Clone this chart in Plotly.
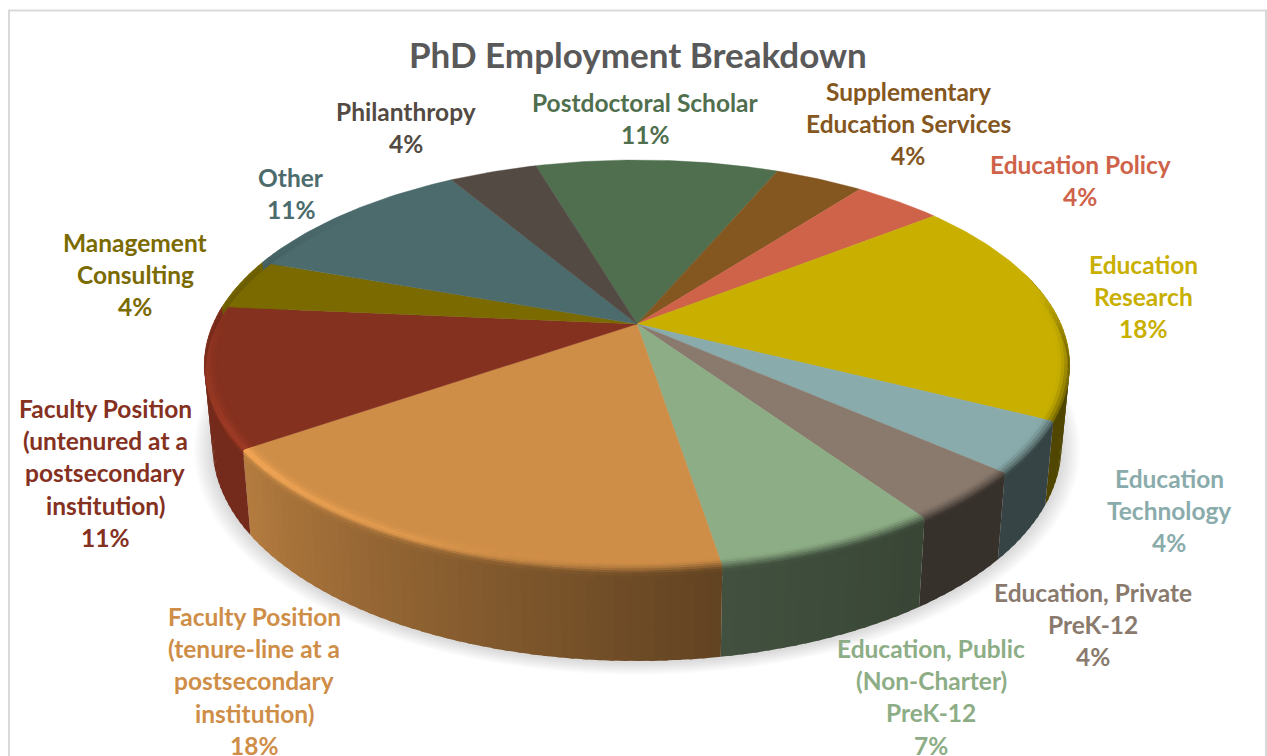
import math
import plotly.graph_objects as go

# Shares of PhD employment, clockwise from the first slice
categories = [
    "Postdoctoral Scholar", "Supplementary Education Services", "Education Policy",
    "Education Research", "Education Technology", "Education, Private PreK-12",
    "Education, Public (Non-Charter) PreK-12",
    "Faculty Position (tenure-line at a postsecondary institution)",
    "Faculty Position (untenured at a postsecondary institution)",
    "Management Consulting", "Other", "Philanthropy",
]
shares = [11, 4, 4, 18, 4, 4, 7, 18, 11, 4, 11, 4]
slice_colors = [
    "#4F6F4E", "#845620", "#CF634A", "#C8AF00", "#8AABAC", "#8A7A6D",
    "#8DAD86", "#CF8E48", "#85311F", "#7A6A00", "#4C6B6D", "#524A43",
]
label_lines = [
    ["Postdoctoral Scholar"],
    ["Supplementary", "Education Services"],
    ["Education Policy"],
    ["Education", "Research"],
    ["Education", "Technology"],
    ["Education, Private", "PreK-12"],
    ["Education, Public", "(Non-Charter)", "PreK-12"],
    ["Faculty Position", "(tenure-line at a", "postsecondary", "institution)"],
    ["Faculty Position", "(untenured at a", "postsecondary", "institution)"],
    ["Management", "Consulting"],
    ["Other"],
    ["Philanthropy"],
]
title_text = "PhD Employment Breakdown"

# Label placement: column centre and the height of the first text line
label_anchor = [
    (645, 102), (908, 91), (1080, 164), (1143, 264), (1169, 478), (1093, 592),
    (931, 648), (254, 616), (105, 408), (135, 242), (291, 177), (406, 111),
]
LINE_STEP = 32.4
FONT = "Lato"
LABEL_SIZE = 24.5
TITLE_SIZE = 35

# Projection of the tilted disc onto the page
CX, CY = 637.0, 324.0
RX, RY = 424.0, 196.8
PERSP = 0.2
START_DEG = -16.5


def project(r, deg, z=0.0):
    """Map polar disc coordinates (z = fraction of the wall height) to page pixels."""
    t = math.radians(deg)
    u, v = r * math.sin(t), -r * math.cos(t)
    k = 1 / (1 - PERSP * v)
    x = CX + (1 - 0.019 * z) * RX * u * k
    y = CY + RY * v * k + z * (78 + 13 * v)
    return x, y


def rgb(hex_color):
    return [int(hex_color[i:i + 2], 16) for i in (1, 3, 5)]


def css(c):
    return "rgb({},{},{})".format(*[max(0, min(255, round(a))) for a in c])


def interp(x, pts):
    if x <= pts[0][0]:
        return pts[0][1]
    for (x0, y0), (x1, y1) in zip(pts, pts[1:]):
        if x <= x1:
            return y0 + (y1 - y0) * (x - x0) / (x1 - x0)
    return pts[-1][1]


def wall_shade(deg):
    return interp(deg, [(145, 0.40), (171, 0.47), (235, 0.87), (300, 0.87)])


def highlight(deg):
    return interp(deg, [(172, 0.0), (205, 1.0), (240, 1.0), (300, 0.0)])


def rim_weight(deg):
    return interp(deg, [(80, 0.0), (105, 1.0), (285, 1.0), (310, 0.0)])


def polygon(points, color, opacity=None, edge=0.0):
    tr = go.Scatter(
        x=[p[0] for p in points] + [points[0][0]],
        y=[p[1] for p in points] + [points[0][1]],
        mode="lines" if edge else "none", fill="toself", fillcolor=color,
        hoverinfo="skip", showlegend=False,
    )
    if edge:
        tr.line = dict(color=color, width=edge)
    if opacity is not None:
        tr.opacity = opacity
    return tr


def arc_steps(a0, a1, step):
    n = max(1, math.ceil((a1 - a0) / step))
    return [a0 + (a1 - a0) * i / n for i in range(n + 1)]


# Slice extents in degrees, from the shares
total = sum(shares)
bounds = [START_DEG]
for s in shares:
    bounds.append(bounds[-1] + 360 * s / total)

fig = go.Figure()

# Soft ground shadow: stacked translucent discs growing outwards
for i in range(12):
    grow = 1.044 - i * 0.0036
    pts = []
    for d in range(0, 360, 3):
        x, y = project(1.0, d, 1.0)
        pts.append((CX + (x - CX) * grow, 372 + (y - 372 + 1) * grow))
    fig.add_trace(polygon(pts, "rgb(130,130,130)", opacity=0.028))

# Outer wall, shaded by direction; each strip runs under the next one to hide joins
for i, col in enumerate(slice_colors):
    base = rgb(col)
    a0, a1 = max(bounds[i], 75), min(bounds[i + 1], 295)
    if a1 <= a0:
        continue
    steps = arc_steps(a0, a1, 1.5)
    for k, (d0, d1) in enumerate(zip(steps, steps[1:])):
        g = wall_shade((d0 + d1) / 2)
        d1x = d1 if k == len(steps) - 2 else d1 + 0.6
        fig.add_trace(polygon(
            [project(1, d0), project(1, d1x), project(1, d1x, 1), project(1, d0, 1)],
            css([c * g for c in base])))

# Flat top of every slice
for i, col in enumerate(slice_colors):
    pts = [(CX, CY)] + [project(1, d) for d in arc_steps(bounds[i], bounds[i + 1], 1.0)]
    fig.add_trace(polygon(pts, col, edge=0.4))

# Rounded rim between the top and the wall, painted from the inside out
BANDS = [(0.968, 0.977, 0.0), (0.974, 0.984, 0.0), (0.981, 0.991, 0.0), (0.988, 0.998, 0.0),
         (0.995, 1.0, 0.012), (1.0, 1.0, 0.035), (1.0, 1.0, 0.07), (1.0, 1.0, 0.105)]
for b, (r0, r1, z1) in enumerate(BANDS):
    z0 = BANDS[b - 1][2] - 0.004 if z1 > 0.02 else 0.0
    u = (b + 0.5) / len(BANDS)
    ramp = min(1.0, max(0.0, (u - 0.1) / 0.8))
    ramp = ramp * ramp * (3 - 2 * ramp)
    for i, col in enumerate(slice_colors):
        base = rgb(col)
        a0, a1 = max(bounds[i], 80), min(bounds[i + 1], 310)
        if a1 <= a0:
            continue
        steps = arc_steps(a0, a1, 2.0)
        for k, (d0, d1) in enumerate(zip(steps, steps[1:])):
            mid = (d0 + d1) / 2
            g = 1 + rim_weight(mid) * (wall_shade(mid) - 1) * ramp
            g *= 1 + 0.27 * highlight(mid) * math.exp(-((u - 0.55) / 0.24) ** 2)
            d1x = d1 if k == len(steps) - 2 else d1 + 0.6
            fig.add_trace(polygon(
                [project(r0, d0, z0), project(r0, d1x, z0), project(r1, d1x, z1), project(r1, d0, z1)],
                css([c * g for c in base])))

# Title and data labels, one annotation per text line
annotations = [dict(x=638, y=53.5, text=f"<b>{title_text}</b>", showarrow=False,
                    font=dict(family=FONT, size=TITLE_SIZE, color="#595959"),
                    xanchor="center", yanchor="middle", xref="x", yref="y")]
for lines, value, col, (ax, ay) in zip(label_lines, shares, slice_colors, label_anchor):
    for n, line in enumerate(lines + [f"{value}%"]):
        annotations.append(dict(x=ax, y=ay + n * LINE_STEP, text=f"<b>{line}</b>", showarrow=False,
                                font=dict(family=FONT, size=LABEL_SIZE, color=col),
                                xanchor="center", yanchor="middle", xref="x", yref="y"))

# Chart frame, open at the bottom of the page
frame = dict(type="path", path="M 9 760 L 9 10.5 L 1266 10.5 L 1266 760", xref="x", yref="y",
             line=dict(color="#D9D9D9", width=2))

fig.update_layout(
    width=1267, height=756, margin=dict(l=0, r=0, t=0, b=0),
    paper_bgcolor="white", plot_bgcolor="white", showlegend=False, hovermode=False,
    xaxis=dict(range=[0, 1267], visible=False, fixedrange=True),
    yaxis=dict(range=[756, 0], visible=False, fixedrange=True),
    annotations=annotations, shapes=[frame],
)
fig.write_html("out.html", config={"displayModeBar": False})
